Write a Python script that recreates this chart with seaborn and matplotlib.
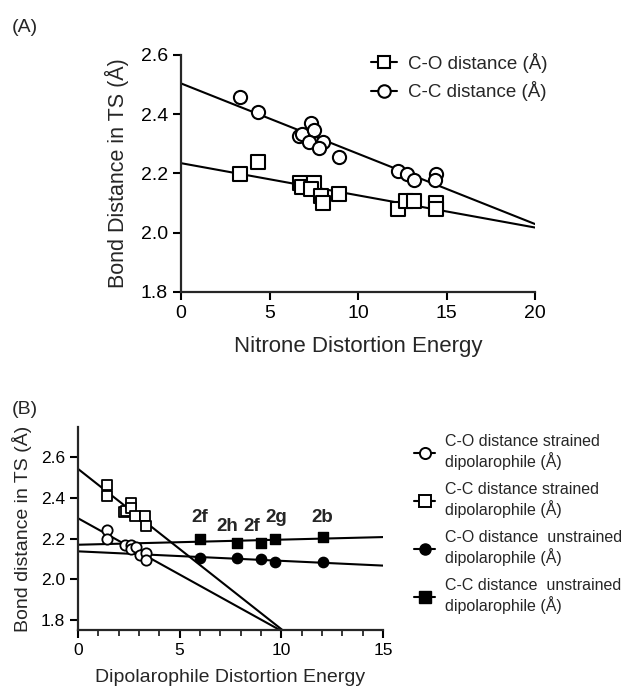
import numpy as np
import pandas as pd
import matplotlib
matplotlib.use("Agg")
import matplotlib.pyplot as plt
import seaborn as sns
from matplotlib.lines import Line2D
from matplotlib.ticker import MultipleLocator

# ---------------- Panel A data ----------------
nitrone_energy_cc = [3.35, 4.33, 6.69, 6.84, 7.34, 7.53, 7.25, 8.04, 7.82, 8.95, 12.24, 12.75, 13.15, 14.40, 14.35]
cc_distance_a = [2.459, 2.406, 2.327, 2.335, 2.370, 2.347, 2.306, 2.306, 2.287, 2.257, 2.208, 2.197, 2.178, 2.197, 2.177]
nitrone_energy_co = [3.35, 4.33, 6.74, 6.82, 7.53, 7.34, 7.91, 8.04, 8.95, 12.24, 12.71, 13.15, 14.40, 14.40]
co_distance_a = [2.197, 2.239, 2.167, 2.155, 2.167, 2.146, 2.124, 2.099, 2.130, 2.079, 2.107, 2.107, 2.101, 2.081]

# ---------------- Panel B data ----------------
strained_cc_x = [1.44, 1.44, 2.27, 2.38, 2.59, 2.59, 2.79, 3.28, 3.33]
strained_cc_y = [2.463, 2.410, 2.330, 2.338, 2.374, 2.352, 2.310, 2.310, 2.261]
strained_co_x = [1.44, 1.44, 2.30, 2.59, 2.59, 2.87, 3.07, 3.33, 3.33]
strained_co_y = [2.241, 2.198, 2.167, 2.170, 2.150, 2.159, 2.121, 2.129, 2.096]
unstrained_x = [5.99, 7.80, 8.98, 9.69, 12.07]
unstrained_cc_y = [2.198, 2.179, 2.179, 2.198, 2.208]
unstrained_co_y = [2.107, 2.107, 2.099, 2.083, 2.083]
unstrained_labels = ["2f", "2h", "2f", "2g", "2b"]

df_a_cc = pd.DataFrame({"x": nitrone_energy_cc, "y": cc_distance_a})
df_a_co = pd.DataFrame({"x": nitrone_energy_co, "y": co_distance_a})
df_b_scc = pd.DataFrame({"x": strained_cc_x, "y": strained_cc_y})
df_b_sco = pd.DataFrame({"x": strained_co_x, "y": strained_co_y})
df_b_ucc = pd.DataFrame({"x": unstrained_x, "y": unstrained_cc_y})
df_b_uco = pd.DataFrame({"x": unstrained_x, "y": unstrained_co_y})

sns.set_style("ticks")
plt.rcParams["font.family"] = ["Liberation Sans", "DejaVu Sans"]
plt.rcParams["axes.linewidth"] = 1.6

fig = plt.figure(figsize=(6.27, 6.89), dpi=100)
W, H = 627, 689

def px_axes(left, top, right, bottom):
    return fig.add_axes([left / W, 1 - bottom / H, (right - left) / W, (bottom - top) / H])

line_kws = dict(color="black", lw=1.5, zorder=2)

# ---------------- Panel A ----------------
ax1 = px_axes(181, 55, 535, 292)
ax1.set_xlim(0, 20)
ax1.set_ylim(1.8, 2.6)
sns.regplot(data=df_a_cc, x="x", y="y", ax=ax1, scatter=False, ci=None, truncate=False, line_kws=line_kws)
sns.regplot(data=df_a_co, x="x", y="y", ax=ax1, scatter=False, ci=None, truncate=False, line_kws=line_kws)
sns.scatterplot(data=df_a_cc, x="x", y="y", ax=ax1, marker="o", s=90, facecolor="white",
                edgecolor="black", linewidth=1.5, zorder=3)
sns.scatterplot(data=df_a_co, x="x", y="y", ax=ax1, marker="s", s=90, facecolor="white",
                edgecolor="black", linewidth=1.5, zorder=3)
ax1.set_xlim(0, 20)
ax1.set_ylim(1.8, 2.6)
ax1.set_xticks([0, 5, 10, 15, 20])
ax1.set_yticks([1.8, 2.0, 2.2, 2.4, 2.6])
ax1.set_yticklabels(["1.8", "2.0", "2.2", "2.4", "2.6"])
ax1.tick_params(axis="both", direction="out", length=6, width=1.5, labelsize=14, colors="black")
ax1.set_xlabel("Nitrone Distortion Energy", fontsize=16, labelpad=10)
ax1.set_ylabel("Bond Distance in TS (Å)", fontsize=15.5, labelpad=8)
for s in ["top", "right"]:
    ax1.spines[s].set_visible(False)

h_co = Line2D([], [], color="black", lw=1.5, marker="s", markersize=9, markerfacecolor="white",
              markeredgecolor="black", markeredgewidth=1.5)
h_cc = Line2D([], [], color="black", lw=1.5, marker="o", markersize=9, markerfacecolor="white",
              markeredgecolor="black", markeredgewidth=1.5)
ax1.legend([h_co, h_cc], ["C-O distance (Å)", "C-C distance (Å)"], loc="upper left",
           bbox_to_anchor=((354 - 181) / 354, 1.08), frameon=False, fontsize=13.5,
           handlelength=1.4, handletextpad=0.6, labelspacing=0.45)

fig.text(12 / W, 1 - 28 / H, "(A)", fontsize=14, va="center", ha="left")

# ---------------- Panel B ----------------
ax2 = px_axes(78, 427, 383, 630)
ax2.set_xlim(0, 15)
ax2.set_ylim(1.75, 2.75)
for d in [df_b_scc, df_b_sco, df_b_ucc, df_b_uco]:
    sns.regplot(data=d, x="x", y="y", ax=ax2, scatter=False, ci=None, truncate=False, line_kws=line_kws)
sns.scatterplot(data=df_b_sco, x="x", y="y", ax=ax2, marker="o", s=55, facecolor="white",
                edgecolor="black", linewidth=1.3, zorder=3)
sns.scatterplot(data=df_b_scc, x="x", y="y", ax=ax2, marker="s", s=60, facecolor="white",
                edgecolor="black", linewidth=1.3, zorder=3)
sns.scatterplot(data=df_b_uco, x="x", y="y", ax=ax2, marker="o", s=55, color="black",
                edgecolor="black", linewidth=1.0, zorder=3)
sns.scatterplot(data=df_b_ucc, x="x", y="y", ax=ax2, marker="s", s=55, color="black",
                edgecolor="black", linewidth=1.0, zorder=3)
label_offsets = [(0, 22), (-9, 16), (-9, 16), (1, 22), (-1, 20)]
for xv, yv, lab, off in zip(unstrained_x, unstrained_cc_y, unstrained_labels, label_offsets):
    ax2.annotate(lab, (xv, yv), xytext=off, textcoords="offset pixels", ha="center", va="center",
                 fontsize=13.5, fontweight="bold")
ax2.set_xlim(0, 15)
ax2.set_ylim(1.75, 2.75)
ax2.set_xticks([0, 5, 10, 15])
ax2.xaxis.set_minor_locator(MultipleLocator(1))
ax2.set_yticks([1.8, 2.0, 2.2, 2.4, 2.6])
ax2.set_yticklabels(["1.8", "2.0", "2.2", "2.4", "2.6"])
ax2.tick_params(axis="both", which="major", direction="out", length=6, width=1.5, labelsize=12.5, colors="black")
ax2.tick_params(axis="x", which="minor", direction="out", length=4, width=1.3)
ax2.set_xlabel("Dipolarophile Distortion Energy", fontsize=14, labelpad=8)
ax2.set_ylabel("Bond distance in TS (Å)", fontsize=14, labelpad=6)
for s in ["top", "right"]:
    ax2.spines[s].set_visible(False)

hb1 = Line2D([], [], color="black", lw=1.5, marker="o", markersize=8, markerfacecolor="white",
             markeredgecolor="black", markeredgewidth=1.4)
hb2 = Line2D([], [], color="black", lw=1.5, marker="s", markersize=8, markerfacecolor="white",
             markeredgecolor="black", markeredgewidth=1.4)
hb3 = Line2D([], [], color="black", lw=1.5, marker="o", markersize=8, markerfacecolor="black",
             markeredgecolor="black")
hb4 = Line2D([], [], color="black", lw=1.5, marker="s", markersize=8, markerfacecolor="black",
             markeredgecolor="black")
fig.legend([hb1, hb2, hb3, hb4],
           ["C-O distance strained\ndipolarophile (Å)",
            "C-C distance strained\ndipolarophile (Å)",
            "C-O distance  unstrained\ndipolarophile (Å)",
            "C-C distance  unstrained\ndipolarophile (Å)"],
           loc="upper left", bbox_to_anchor=(400 / W, 1 - 420 / H), frameon=False, fontsize=11.5,
           handlelength=1.3, handletextpad=0.6, labelspacing=0.75)

fig.text(12 / W, 1 - 410 / H, "(B)", fontsize=14, va="center", ha="left")

fig.savefig("out.png", dpi=100)
